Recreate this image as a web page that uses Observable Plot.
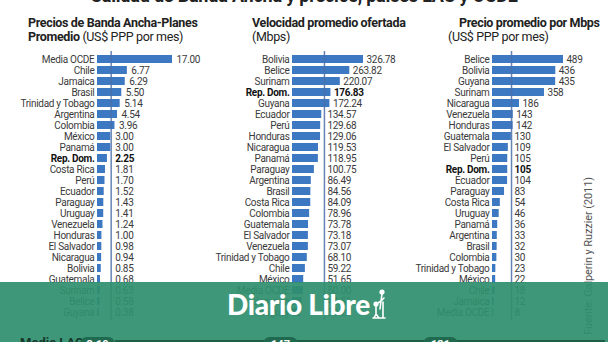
<!DOCTYPE html>
<html>
<head>
<meta charset="utf-8">
<script src="https://cdn.jsdelivr.net/npm/d3@7"></script>
<script src="https://cdn.jsdelivr.net/npm/@observablehq/plot@0.6"></script>
<style>
  body { margin:0; width:608px; height:342px; overflow:hidden; background:#fff; position:relative;
         font-family: Roboto, sans-serif; color:#333; }
  .abs { position:absolute; white-space:nowrap; }
  .ptitle { font-size:12.5px; line-height:14px; color:#222; letter-spacing:-0.35px; }
  .ptitle b { font-weight:bold; }
  .chart { position:absolute; top:40px; }
  .pill { position:absolute; top:337px; height:14px; border-radius:7px; background:#1f6a4e; color:#fff;
          font: bold 11px Roboto, sans-serif; text-align:center; line-height:16px; }
</style>
</head>
<body>
<div class="abs" style="left:0;top:-13px;width:608px;text-align:center;font-weight:bold;font-size:18px;line-height:18px;color:#222;letter-spacing:-0.2px;">Calidad de Banda Ancha y precios, países LAC y OCDE</div>

<div class="abs ptitle" style="left:28px;top:16px;"><b>Precios de Banda Ancha-Planes</b></div>
<div class="abs ptitle" style="left:28px;top:30px;"><b>Promedio</b> (US$ PPP por mes)</div>
<div class="abs ptitle" style="left:252px;top:16px;"><b>Velocidad promedio ofertada</b></div>
<div class="abs ptitle" style="left:252px;top:30px;">(Mbps)</div>
<div class="abs ptitle" style="left:459px;top:16px;"><b>Precio promedio por Mbps</b></div>
<div class="abs ptitle" style="left:448px;top:30px;">(US$ PPP por mes)</div>

<div id="c1" class="chart" style="left:0px;"></div>
<div id="c2" class="chart" style="left:200px;"></div>
<div id="c3" class="chart" style="left:400px;"></div>

<div class="abs" style="left:582px;top:177px;writing-mode:vertical-rl;transform:rotate(180deg);font-size:11px;letter-spacing:-0.1px;color:#555;">Fuente: Galperin y Ruzzier (2011)</div>

<div class="abs" style="left:0;top:282px;width:608px;height:60px;background:rgba(47,143,110,0.93);"></div>
<div class="abs" style="left:115px;top:340px;width:490px;height:2px;background:#1d5f45;"></div>
<div class="abs" style="left:20px;top:335px;font-weight:bold;font-size:13px;color:#15392a;">Media LAC</div>
<div class="pill" style="left:80px;width:35px;" id="p1"></div>
<div class="pill" style="left:263px;width:35px;" id="p2"></div>
<div class="pill" style="left:423px;width:35px;" id="p3"></div>

<div class="abs" style="left:227px;top:289px;font-family:Lato, 'Open Sans', sans-serif;font-weight:900;font-size:28px;line-height:30px;color:#fff;letter-spacing:-0.3px;">Diario Libre</div>
<svg class="abs" style="left:371px;top:289px;" width="16" height="30" viewBox="0 0 16 30">
  <g stroke="#fff" stroke-width="1.6" fill="none" stroke-linecap="round">
    <circle cx="11" cy="3" r="1.8" fill="#fff"/>
    <path d="M11 5 L10 12 M10 12 L13 9 M7 14 L10 12 M10 12 L9 20"/>
    <circle cx="5" cy="15" r="1.8" fill="#fff"/>
    <path d="M5 17 L5 25 M5 25 L3 29 M5 25 L8 29 M2 29 L14 29 M12 13 L12 29"/>
  </g>
</svg>

<script>
// ---- Data ----
const cats1 = ["Media OCDE","Chile","Jamaica","Brasil","Trinidad y Tobago","Argentina","Colombia","México","Panamá","Rep. Dom.","Costa Rica","Perú","Ecuador","Paraguay","Uruguay","Venezuela","Honduras","El Salvador","Nicaragua","Bolivia","Guatemala","Surinam","Belice","Guyana"];
const vals1 = [17.00,6.77,6.29,5.50,5.14,4.54,3.96,3.00,3.00,2.25,1.81,1.70,1.52,1.43,1.41,1.24,1.00,0.98,0.94,0.85,0.68,0.63,0.58,0.38];

const cats2 = ["Bolivia","Belice","Surinam","Rep. Dom.","Guyana","Ecuador","Perú","Honduras","Nicaragua","Panamá","Paraguay","Argentina","Brasil","Costa Rica","Colombia","Guatemala","El Salvador","Venezuela","Trinidad y Tobago","Chile","México","Media OCDE","Jamaica","Uruguay"];
const vals2 = [326.78,263.82,220.07,176.83,172.24,134.57,129.68,129.06,119.53,118.95,100.75,86.49,84.56,84.09,78.96,73.78,73.18,73.07,68.10,59.22,51.65,50.00,44.51,39.29];

const cats3 = ["Belice","Bolivia","Guyana","Surinam","Nicaragua","Venezuela","Honduras","Guatemala","El Salvador","Perú","Rep. Dom.","Ecuador","Paraguay","Costa Rica","Uruguay","Panamá","Argentina","Brasil","Colombia","Trinidad y Tobago","México","Chile","Jamaica","Media OCDE"];
const vals3 = [489,436,435,358,186,143,142,130,109,105,105,104,83,54,46,36,33,32,30,23,22,18,12,8];

const lacVals = [3.10, 147, 131];
const lacLabels = ["3.10", "147", "131"];

// ---- Drawing ----
function panel(cats, vals, lac, domMax, x0, len, fmt, gap) {
  const data = cats.map((c, i) => ({c, v: vals[i], bold: c === "Rep. Dom."}));
  return Plot.plot({
    width: 200, height: 303, marginTop: 9, marginBottom: 20, marginLeft: 0, marginRight: 0,
    x: {domain: [0, domMax], range: [x0, x0 + len], axis: null},
    y: {domain: cats, padding: 0.25, axis: null},
    style: {fontFamily: "Roboto, sans-serif", fontSize: "10px", letterSpacing: "-0.3px", color: "#333", background: "transparent", overflow: "visible"},
    marks: [
      Plot.barX(data, {x: "v", y: "c", fill: "#3d78c2"}),
      Plot.ruleX([lac], {stroke: "#4a6fa8", strokeWidth: 1.5, strokeOpacity: 0.85, insetTop: 2, insetBottom: 3}),
      Plot.text(data, {filter: d => !d.bold, x: () => 0, y: "c", text: "c", textAnchor: "end", dx: -3, fill: "#3a3a3a"}),
      Plot.text(data, {filter: d => d.bold, x: () => 0, y: "c", text: "c", textAnchor: "end", dx: -3, fill: "#111", fontWeight: "bold"}),
      Plot.text(data, {filter: d => !d.bold, x: d => Math.max(d.v, lac), y: "c", text: d => fmt(d.v), textAnchor: "start", dx: gap, fill: "#3a3a3a"}),
      Plot.text(data, {filter: d => d.bold, x: d => Math.max(d.v, lac), y: "c", text: d => fmt(d.v), textAnchor: "start", dx: gap, fill: "#111", fontWeight: "bold"})
    ]
  });
}
const f2 = v => v.toFixed(2);
const f0 = v => String(Math.round(v));
document.getElementById("c1").append(panel(cats1, vals1, lacVals[0], d3.max(vals1), 97, 75, f2, 4));
document.getElementById("c2").append(panel(cats2, vals2, lacVals[1], d3.max(vals2), 92, 71, f2, 3));
document.getElementById("c3").append(panel(cats3, vals3, lacVals[2], d3.max(vals3), 92, 71, f0, 3));
document.getElementById("p1").textContent = lacLabels[0];
document.getElementById("p2").textContent = lacLabels[1];
document.getElementById("p3").textContent = lacLabels[2];
</script>
</body>
</html>
